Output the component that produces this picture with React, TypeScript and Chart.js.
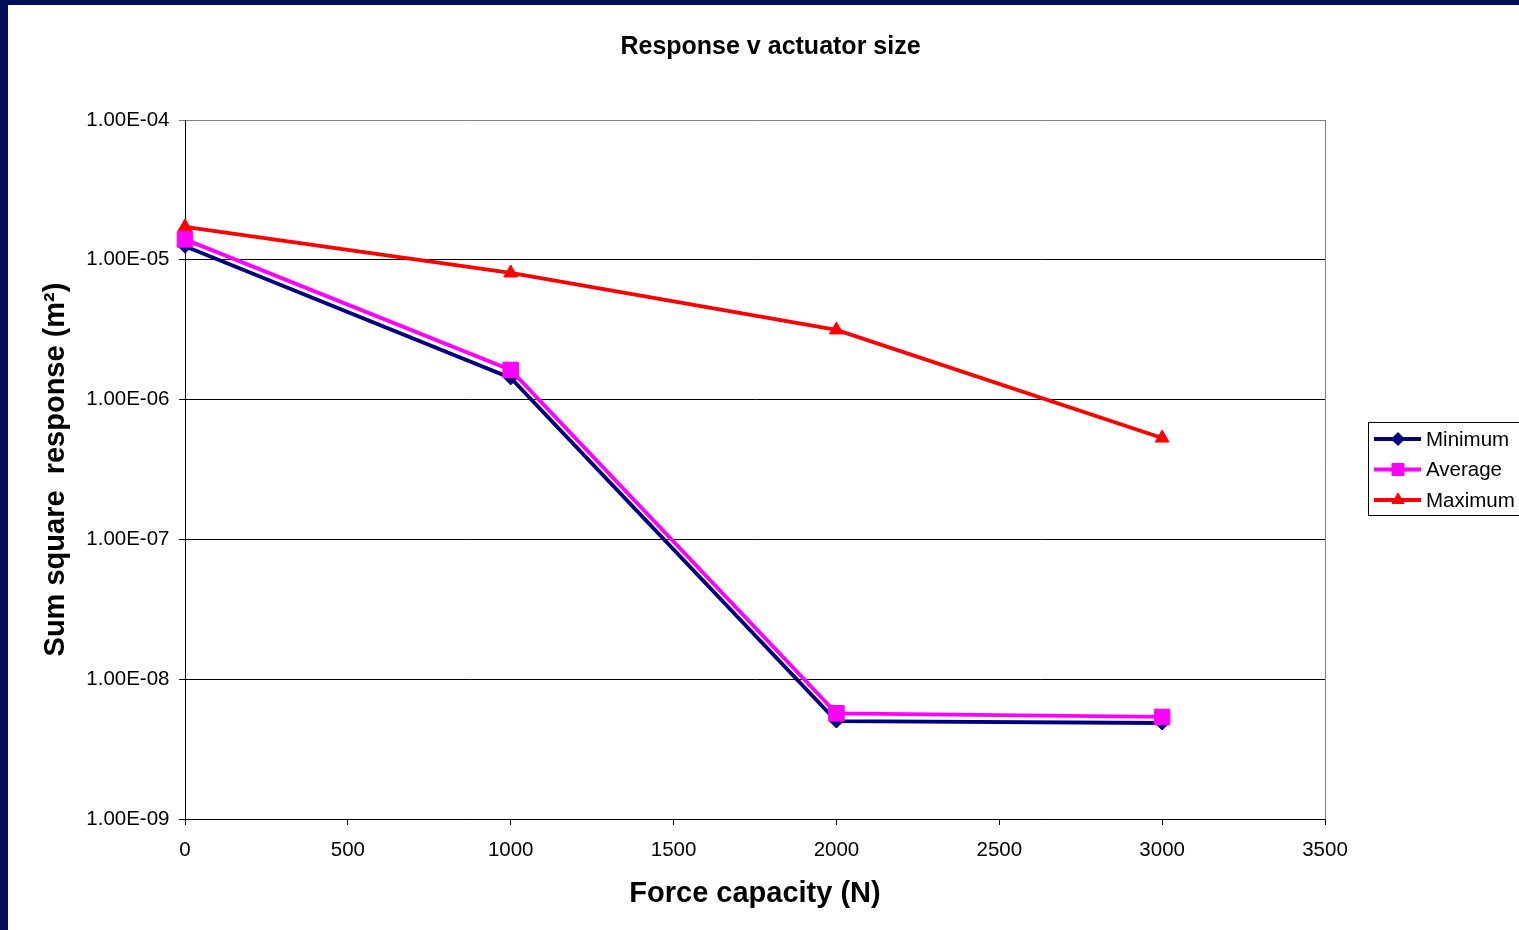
import React, { useEffect, useRef } from 'react';
import { Chart, registerables } from 'chart.js';
import { drawPoint } from 'chart.js/helpers';

Chart.register(...registerables);

// ---- data ----
const forceCapacity = [0, 1000, 2000, 3000];
const minimumResponse = [1.25e-5, 1.43e-6, 5.02e-9, 4.86e-9];
const averageResponse = [1.4e-5, 1.63e-6, 5.7e-9, 5.37e-9];
const maximumResponse = [1.72e-5, 8.05e-6, 3.15e-6, 5.31e-7];
const seriesNames = ['Minimum', 'Average', 'Maximum'];
const yTickValues = [1e-9, 1e-8, 1e-7, 1e-6, 1e-5, 1e-4];
const yTickLabels = ['1.00E-09', '1.00E-08', '1.00E-07', '1.00E-06', '1.00E-05', '1.00E-04'];
const xTickValues = [0, 500, 1000, 1500, 2000, 2500, 3000, 3500];
const xTickLabels = ['0', '500', '1000', '1500', '2000', '2500', '3000', '3500'];

const chartTitle = 'Response v actuator size';
const xTitle = 'Force capacity (N)';
const yTitle = 'Sum square  response (m\u00B2)';

const FONT = '"Liberation Sans", Arial, Helvetica, sans-serif';
const OX = 8;
const OY = 5;
const W = 1519 - OX;
const H = 930 - OY;

const toPoints = (ys: number[]) => forceCapacity.map((x, i) => ({ x, y: ys[i] }));

const legendRadius: Record<string, number> = { rectRot: 6.5, rect: 8.5, triangle: 7 };

const titleLegendPlugin = {
  id: 'titleLegend',
  afterDraw(chart: any) {
    const ctx = chart.ctx as CanvasRenderingContext2D;
    ctx.save();
    // title
    ctx.fillStyle = '#000';
    ctx.font = `bold 25px ${FONT}`;
    ctx.textAlign = 'center';
    ctx.textBaseline = 'middle';
    ctx.fillText(chartTitle, 1525 / 2, 42);

    // right border of plot area
    const ca = chart.chartArea;
    ctx.strokeStyle = '#808080';
    ctx.lineWidth = 1;
    ctx.beginPath();
    ctx.moveTo(Math.round(ca.right) + 0.5, Math.round(ca.top));
    ctx.lineTo(Math.round(ca.right) + 0.5, Math.round(ca.bottom));
    ctx.stroke();

    // legend box
    ctx.strokeStyle = '#000';
    ctx.lineWidth = 1;
    ctx.strokeRect(1360.5, 417.5, 170, 93);
    chart.data.datasets.forEach((ds: any, i: number) => {
      const y = 434 + i * 30.5;
      ctx.strokeStyle = ds.borderColor;
      ctx.lineWidth = ds.borderWidth;
      ctx.beginPath();
      ctx.moveTo(1366, y);
      ctx.lineTo(1413, y);
      ctx.stroke();
      ctx.fillStyle = ds.pointBackgroundColor;
      ctx.strokeStyle = ds.pointBorderColor;
      ctx.lineWidth = 1;
      drawPoint(ctx, { pointStyle: ds.pointStyle, radius: legendRadius[ds.pointStyle], borderWidth: 1, rotation: 0 } as any, 1390, y);
      ctx.fillStyle = '#000';
      ctx.font = `20.5px ${FONT}`;
      ctx.textAlign = 'left';
      ctx.textBaseline = 'middle';
      ctx.fillText(ds.label, 1418, y + 1);
    });
    ctx.restore();
  },
};

export default function App() {
  const ref = useRef<HTMLCanvasElement | null>(null);

  useEffect(() => {
    if (!ref.current) return;
    Chart.defaults.font.family = FONT;
    Chart.defaults.color = '#000';
    const chart = new Chart(ref.current, {
      type: 'line',
      data: {
        datasets: [
          {
            label: seriesNames[0],
            data: toPoints(minimumResponse),
            borderColor: '#000080',
            backgroundColor: '#000080',
            pointBackgroundColor: '#000080',
            pointBorderColor: '#000080',
            borderWidth: 3.8,
            pointStyle: 'rectRot',
            pointRadius: 7,
            pointBorderWidth: 1,
            order: 3,
            clip: false,
          },
          {
            label: seriesNames[1],
            data: toPoints(averageResponse),
            borderColor: '#FF00FF',
            backgroundColor: '#FF00FF',
            pointBackgroundColor: '#FF00FF',
            pointBorderColor: '#FF00FF',
            borderWidth: 3.8,
            pointStyle: 'rect',
            pointRadius: 11,
            pointBorderWidth: 1,
            order: 2,
            clip: false,
          },
          {
            label: seriesNames[2],
            data: toPoints(maximumResponse),
            borderColor: '#FF0000',
            backgroundColor: '#FF0000',
            pointBackgroundColor: '#FF0000',
            pointBorderColor: '#FF0000',
            borderWidth: 3.8,
            pointStyle: 'triangle',
            pointRadius: 8,
            pointBorderWidth: 1,
            order: 1,
            clip: false,
          },
        ] as any,
      },
      options: {
        animation: false,
        responsive: false,
        events: [],
        layout: { padding: { top: 115, right: 194, bottom: 0, left: 0 } },
        plugins: {
          legend: { display: false },
          title: { display: false },
          tooltip: { enabled: false },
        },
        scales: {
          x: {
            type: 'linear',
            min: 0,
            max: 3500,
            afterBuildTicks: (scale: any) => {
              scale.ticks = xTickValues.map((v) => ({ value: v }));
            },
            afterFit: (scale: any) => {
              scale.height = 111;
            },
            ticks: {
              font: { size: 20.5 },
              color: '#000',
              padding: 13,
              maxRotation: 0,
              autoSkip: false,
              callback: (v: any) => xTickLabels[xTickValues.indexOf(Number(v))] ?? String(v),
            },
            grid: {
              drawOnChartArea: false,
              drawTicks: true,
              tickLength: 6,
              color: '#000',
              tickColor: '#000',
            },
            border: { color: '#000', width: 1 },
            title: {
              display: true,
              text: xTitle,
              font: { size: 29, weight: 'bold' },
              color: '#000',
              padding: { top: 0, bottom: 18.6 },
            },
          },
          y: {
            type: 'logarithmic',
            min: 1e-9,
            max: 1e-4,
            afterBuildTicks: (scale: any) => {
              scale.ticks = yTickValues.map((v) => ({ value: v }));
            },
            afterFit: (scale: any) => {
              scale.width = 177;
            },
            ticks: {
              font: { size: 20.5 },
              color: '#000',
              padding: 9.5,
              autoSkip: false,
              callback: (v: any) => {
                const idx = yTickValues.findIndex((t) => Math.abs(Math.log10(t) - Math.log10(Number(v))) < 1e-6);
                return idx >= 0 ? yTickLabels[idx] : '';
              },
            },
            grid: {
              drawTicks: true,
              tickLength: 6,
              lineWidth: 1,
              color: (c: any) => (c.tick && Math.abs(c.tick.value - 1e-4) < 1e-12 ? '#808080' : '#000'),
              tickColor: (c: any) => (c.tick && Math.abs(c.tick.value - 1e-4) < 1e-12 ? '#808080' : '#000'),
            },
            border: { color: '#000', width: 1 },
            title: {
              display: true,
              text: yTitle,
              font: { size: 29, weight: 'bold' },
              color: '#000',
              padding: { top: 31, bottom: 0 },
            },
          },
        },
      } as any,
      plugins: [titleLegendPlugin],
    });
    return () => chart.destroy();
  }, []);

  return (
    <div
      style={{
        position: 'fixed',
        left: 0,
        top: 0,
        width: 1519,
        height: 930,
        background: '#000E5C',
        overflow: 'hidden',
      }}
    >
      <canvas
        ref={ref}
        width={W}
        height={H}
        style={{ position: 'absolute', left: OX, top: OY, width: W, height: H, background: '#fff', display: 'block' }}
      />
    </div>
  );
}
